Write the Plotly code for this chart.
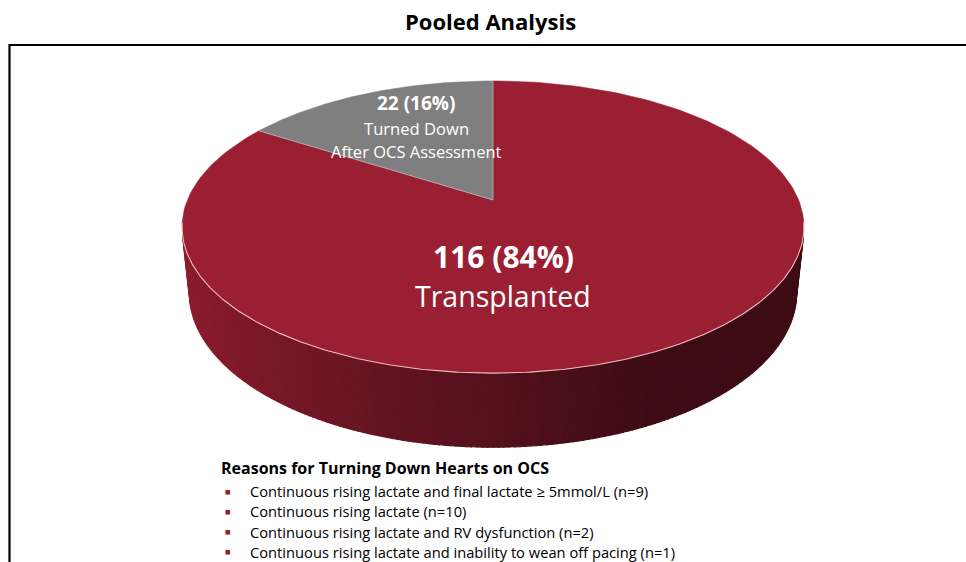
import numpy as np
import plotly.graph_objects as go

# ---- data -----------------------------------------------------------------
categories = ["Transplanted", "Turned Down<br>After OCS Assessment"]
counts = [116, 22]
slice_colors = [(155, 31, 51), (127, 127, 127)]

title_text = "Pooled Analysis"
reasons_heading = "Reasons for Turning Down Hearts on OCS"
reasons = [
    "Continuous rising lactate and final lactate ≥ 5mmol/L",
    "Continuous rising lactate",
    "Continuous rising lactate and RV dysfunction",
    "Continuous rising lactate and inability to wean off pacing",
]
reason_counts = [9, 10, 2, 1]

# ---- page / camera settings ----------------------------------------------
W, H = 966, 562
CX, CY = 493.0, 200.0          # screen position of the disk centre
PHI = np.radians(27.5)         # camera elevation
DIST = 4.795                   # camera distance (disk radius = 1)
FOCAL = 1465.4                 # focal length in px
THICK = 0.244                  # disk thickness
FONT = "Open Sans"


def project(X, Y, Z):
    """Perspective projection of a 3-D point onto the page (px)."""
    X, Y, Z = np.asarray(X, float), np.asarray(Y, float), np.asarray(Z, float)
    depth = Y * np.cos(PHI) + DIST - Z * np.sin(PHI)
    sx = FOCAL * X / depth
    sy = FOCAL * (Y * np.sin(PHI) + Z * np.cos(PHI)) / depth
    return CX + sx, CY - sy


def rim(alpha, z=0.0):
    # alpha measured clockwise from 12 o'clock
    return project(np.sin(alpha), np.cos(alpha), np.full_like(alpha, z))


def rgb(c):
    return "rgb(%d,%d,%d)" % tuple(int(round(v)) for v in c)


total = sum(counts)
shares = [c / total for c in counts]
bounds = np.concatenate([[0.0], np.cumsum(shares)]) * 2 * np.pi

fig = go.Figure()

# ---- side wall (only the part facing the camera) -------------------------
a_s = np.arccos(-1.0 / (DIST * np.cos(PHI)))
n_strips = 180
edges = np.linspace(a_s, 2 * np.pi - a_s, n_strips + 1)
for a0, a1 in zip(edges[:-1], edges[1:]):
    mid = 0.5 * (a0 + a1)
    k = int(np.searchsorted(bounds, mid % (2 * np.pi), side="right") - 1)
    k = min(max(k, 0), len(counts) - 1)
    seg = np.linspace(a0, a1, 3)
    xt, yt = rim(seg, 0.0)
    xb, yb = rim(seg[::-1], -THICK)
    xs = np.concatenate([xt, xb, xt[:1]])
    ys = np.concatenate([yt, yb, yt[:1]])
    xm = float(np.mean(xt))
    t = np.clip((xm - 185.0) / (650.0 - 185.0), 0, 1)
    shade = 0.9 - 0.5 * t ** 0.8
    col = rgb(np.array(slice_colors[k]) * shade)
    fig.add_trace(go.Scatter(
        x=xs, y=ys, mode="lines", fill="toself", fillcolor=col,
        line=dict(color=col, width=1.2), hoverinfo="skip", showlegend=False))

# ---- top face slices -------------------------------------------------------
for k in range(len(counts)):
    arc = np.linspace(bounds[k], bounds[k + 1], 200)
    ax_, ay_ = rim(arc, 0.0)
    ox, oy = project(0, 0, 0)
    xs = np.concatenate([[ox], ax_, [ox]])
    ys = np.concatenate([[oy], ay_, [oy]])
    fig.add_trace(go.Scatter(
        x=xs, y=ys, mode="lines", fill="toself", fillcolor=rgb(slice_colors[k]),
        line=dict(color=rgb(slice_colors[k]), width=0.5),
        hoverinfo="skip", showlegend=False, name=categories[k]))

# light edge between top face and side wall
front = np.linspace(a_s - 0.08, 2 * np.pi - a_s + 0.08, 300)
fx, fy = rim(front, 0.0)
fig.add_trace(go.Scatter(x=fx, y=fy, mode="lines",
                         line=dict(color="rgba(255,215,220,0.85)", width=1.1),
                         hoverinfo="skip", showlegend=False))

# light radial seams between slices
for b in bounds[:-1]:
    ex, ey = rim(np.array([b]), 0.0)
    ox, oy = project(0, 0, 0)
    fig.add_trace(go.Scatter(x=[float(ox), float(ex[0])], y=[float(oy), float(ey[0])],
                             mode="lines",
                             line=dict(color="rgba(255,255,255,0.45)", width=0.8),
                             hoverinfo="skip", showlegend=False))

# ---- slice labels ---------------------------------------------------------
pct = [round(100 * s) for s in shares]
labels = [
    dict(x=503, y=256, head=f"{counts[0]} ({pct[0]}%)", hs=30,
         sub=[(categories[0], 296, 28.5)]),
    dict(x=416, y=103, head=f"{counts[1]} ({pct[1]}%)", hs=19,
         sub=[(categories[1].split("<br>")[0], 128, 16.6),
              (categories[1].split("<br>")[1], 151, 16.5)]),
]
annotations = []
for lb in labels:
    annotations.append(dict(x=lb["x"], y=lb["y"], text=f"<b>{lb['head']}</b>",
                            showarrow=False, xanchor="center", yanchor="middle",
                            font=dict(family=FONT, size=lb["hs"], color="white")))
    for txt, yy, fs in lb["sub"]:
        annotations.append(dict(x=lb["x"], y=yy, text=txt, showarrow=False,
                                xanchor="center", yanchor="middle",
                                font=dict(family=FONT, size=fs, color="white")))

# ---- title ------------------------------------------------------------------
annotations.append(dict(x=490, y=21, text=f"<b>{title_text}</b>", showarrow=False,
                        xanchor="center", yanchor="middle",
                        font=dict(family=FONT, size=22, color="black")))

# ---- reasons list -----------------------------------------------------------
annotations.append(dict(x=219, y=468, text=f"<b>{reasons_heading}</b>", showarrow=False,
                        xanchor="left", yanchor="middle",
                        font=dict(family=FONT, size=16, color="black")))
for i, (r, n) in enumerate(zip(reasons, reason_counts)):
    yy = 491 + i * 20.3
    annotations.append(dict(x=228, y=yy, text="■", showarrow=False,
                            xanchor="center", yanchor="middle",
                            font=dict(family=FONT, size=9.5, color=rgb(slice_colors[0]))))
    annotations.append(dict(x=247.5, y=yy, text=f"{r} (n={n})", showarrow=False,
                            xanchor="left", yanchor="middle",
                            font=dict(family=FONT, size=14.7, color="black")))

# ---- frame ---------------------------------------------------------------------
shapes = [dict(type="rect", xref="x", yref="y", x0=9.5, y0=45, x1=W + 40, y1=H + 40,
               line=dict(color="black", width=2.2), fillcolor="rgba(0,0,0,0)",
               layer="below")]

fig.update_layout(
    width=W, height=H,
    margin=dict(l=0, r=0, t=0, b=0),
    paper_bgcolor="white", plot_bgcolor="white",
    xaxis=dict(range=[0, W], visible=False, fixedrange=True),
    yaxis=dict(range=[H, 0], visible=False, fixedrange=True),
    annotations=annotations, shapes=shapes,
    showlegend=False,
)

fig.write_html("out.html")
